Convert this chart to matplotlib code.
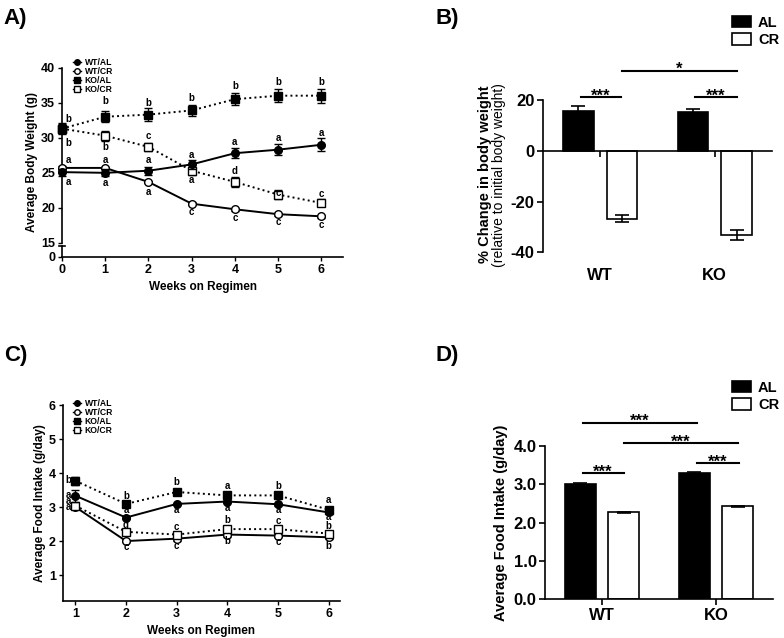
import numpy as np
import matplotlib.pyplot as plt
from matplotlib.lines import Line2D
from matplotlib.patches import Patch

plt.rcParams['font.family'] = ['Liberation Sans', 'DejaVu Sans']
plt.rcParams['font.weight'] = 'bold'
plt.rcParams['axes.labelweight'] = 'bold'
plt.rcParams['axes.linewidth'] = 1.2
plt.rcParams['axes.unicode_minus'] = False

# ---- A) body weight over time
weeks_a = [0, 1, 2, 3, 4, 5, 6]
wt_al_bw = [25.1, 25.0, 25.3, 26.2, 27.8, 28.3, 29.0]
wt_al_bw_err = [0.5, 0.5, 0.6, 0.6, 0.7, 0.8, 0.9]
wt_cr_bw = [25.7, 25.7, 23.7, 20.6, 19.8, 19.1, 18.8]
wt_cr_bw_err = [0.3, 0.2, 0.2, 0.2, 0.2, 0.2, 0.2]
ko_al_bw = [31.3, 33.0, 33.3, 33.9, 35.5, 36.0, 36.0]
ko_al_bw_err = [0.8, 0.8, 0.9, 0.8, 0.9, 0.9, 1.0]
ko_cr_bw = [31.3, 30.3, 28.7, 25.3, 23.7, 21.9, 20.7]
ko_cr_bw_err = [0.6, 0.7, 0.6, 0.6, 0.7, 0.6, 0.5]

letters_a_txt = ['b', 'b', 'a', 'a',
                 'b', 'b', 'a', 'a',
                 'b', 'c', 'a', 'a',
                 'b', 'a', 'a', 'c',
                 'b', 'a', 'd', 'c',
                 'b', 'a', 'c', 'c',
                 'b', 'a', 'c', 'c']
letters_a_x = [0.15] * 4 + [1] * 4 + [2] * 4 + [3] * 4 + [4] * 4 + [5] * 4 + [6] * 4
letters_a_y = [32.7, 29.3, 26.9, 23.7,
               35.3, 28.7, 26.8, 23.6,
               35.0, 30.2, 26.8, 22.2,
               35.7, 27.6, 24.0, 19.4,
               37.4, 29.4, 25.3, 18.5,
               37.9, 30.0, 22.1, 17.95,
               37.9, 30.7, 22.0, 17.6]

# ---- B) % change in body weight
groups = ['WT', 'KO']
al_change = [15.6, 15.2]
al_change_err = [2.0, 1.3]
cr_change = [-26.7, -33.2]
cr_change_err = [1.5, 2.0]

# ---- C) food intake over time
weeks_c = [1, 2, 3, 4, 5, 6]
wt_al_fi = [3.34, 2.70, 3.10, 3.17, 3.09, 2.85]
wt_al_fi_err = [0.17, 0.05, 0.04, 0.05, 0.04, 0.04]
wt_cr_fi = [3.01, 2.01, 2.08, 2.20, 2.17, 2.12]
wt_cr_fi_err = [0.04, 0.03, 0.06, 0.06, 0.04, 0.05]
ko_al_fi = [3.78, 3.10, 3.45, 3.35, 3.35, 2.93]
ko_al_fi_err = [0.12, 0.04, 0.04, 0.06, 0.05, 0.05]
ko_cr_fi = [3.05, 2.28, 2.20, 2.36, 2.36, 2.23]
ko_cr_fi_err = [0.05, 0.04, 0.05, 0.05, 0.05, 0.04]

letters_c_txt = ['b', 'a', 'a', 'a',
                 'b', 'a', 'd', 'c',
                 'b', 'a', 'c', 'c',
                 'a', 'a', 'b', 'b',
                 'b', 'a', 'c', 'c',
                 'a', 'a', 'b', 'b']
letters_c_x = [0.86] * 4 + [2] * 4 + [3] * 4 + [4] * 4 + [5] * 4 + [6] * 4
letters_c_y = [3.81, 3.35, 3.18, 3.01,
               3.33, 2.91, 2.49, 1.83,
               3.73, 2.91, 2.42, 1.86,
               3.62, 2.97, 2.62, 2.00,
               3.62, 2.91, 2.60, 1.97,
               3.21, 2.72, 2.45, 1.85]

# ---- D) average food intake
al_intake = [3.00, 3.30]
al_intake_err = [0.03, 0.03]
cr_intake = [2.27, 2.43]
cr_intake_err = [0.01, 0.01]

series_names = ['WT/AL', 'WT/CR', 'KO/AL', 'KO/CR']
series_style = [('o', 'black', '-'), ('o', 'white', '-'),
                ('s', 'black', ':'), ('s', 'white', ':')]
series_z = [4, 3, 4, 3]


def line_panel(ax, x, ys, errs, lx, ly, ltxt):
    for y, e, (m, fc, ls), z in zip(ys, errs, series_style, series_z):
        ax.errorbar(x, y, yerr=e, marker=m, mfc=fc, mec='black', ms=6 if m == 's' else 5.5,
                    color='black', ls=ls, lw=1.4, elinewidth=1.0, capsize=3, capthick=1.0,
                    clip_on=False, zorder=z)
    for t, xx, yy in zip(ltxt, lx, ly):
        ax.text(xx, yy, t, ha='center', va='center', fontsize=7, zorder=5)
    for s in ['top', 'right']:
        ax.spines[s].set_visible(False)
    ax.tick_params(labelsize=9, width=1.0, length=3, pad=2)


def legend_lines(ax, anchor):
    handles = [Line2D([], [], marker=m, mfc=fc, mec='black', color='black', ls='-',
                      lw=1.0, ms=4) for m, fc, ls in series_style]
    ax.legend(handles, series_names, loc='upper left', bbox_to_anchor=anchor,
              bbox_transform=ax.figure.transFigure, frameon=False, fontsize=6.2,
              handlelength=0.9, handletextpad=0.4, labelspacing=0.0, borderpad=0)


def bar_panel(ax, al, al_err, cr, cr_err):
    x = np.arange(len(groups))
    w = 0.27
    ax.bar(x - 0.19, al, w, yerr=al_err, color='black', edgecolor='black', lw=1.2,
           capsize=5, error_kw=dict(elinewidth=1.2, capthick=1.2), zorder=2)
    ax.bar(x + 0.19, cr, w, yerr=cr_err, color='white', edgecolor='black', lw=1.2,
           capsize=5, error_kw=dict(elinewidth=1.2, capthick=1.2), zorder=2)
    ax.set_xticks(x)
    ax.set_xticklabels([])
    ax.set_xlim(-0.5, 1.5)
    for s in ['top', 'right']:
        ax.spines[s].set_visible(False)
    ax.tick_params(axis='y', labelsize=12, width=1.2, length=4, pad=2)
    ax.tick_params(axis='x', width=1.2, length=4)
    return x


def sig(ax, x0, x1, y, label):
    ax.plot([x0, x1], [y, y], color='black', lw=1.5, clip_on=False)
    ax.annotate(label, xy=((x0 + x1) / 2, y), xytext=(0, -2.5), textcoords='offset points',
                ha='center', va='baseline', fontsize=12, annotation_clip=False)


def bar_legend(fig, anchor):
    handles = [Patch(facecolor='black', edgecolor='black', lw=1.2),
               Patch(facecolor='white', edgecolor='black', lw=1.2)]
    fig.legend(handles, ['AL', 'CR'], loc='upper left', bbox_to_anchor=anchor,
               frameon=False, fontsize=10.5, handlelength=1.3, handleheight=0.85,
               handletextpad=0.5, labelspacing=0.25, borderpad=0)


fig = plt.figure(figsize=(7.84, 6.38), dpi=100)

# ---------- A
ax_a = fig.add_axes([0.0791, 0.5972, 0.3584, 0.2968])
line_panel(ax_a, weeks_a, [wt_al_bw, wt_cr_bw, ko_al_bw, ko_cr_bw],
           [wt_al_bw_err, wt_cr_bw_err, ko_al_bw_err, ko_cr_bw_err],
           letters_a_x, letters_a_y, letters_a_txt)
ax_a.set_xlim(0, 6.5)
ax_a.set_ylim(13, 40)
ax_a.set_xticks(weeks_a)
ax_a.set_yticks([13, 15, 20, 25, 30, 35, 40])
ax_a.set_yticklabels(['0', '15', '20', '25', '30', '35', '40'])
ax_a.spines['left'].set_bounds(15, 40)
ax_a.plot([0, 0], [13, 14.5], color='black', lw=1.2, clip_on=False)
ax_a.plot([-0.06, 0.06], [14.5, 14.5], color='black', lw=1.2, clip_on=False)
ax_a.set_xlabel('Weeks on Regimen', fontsize=8.5, labelpad=4)
ax_a.set_ylabel('Average Body Weight (g)', fontsize=8.5, labelpad=2)
legend_lines(ax_a, (0.088, 0.916))
fig.text(0.005, 0.987, 'A)', fontsize=16, va='top')

# ---------- B
ax_b = fig.add_axes([0.6926, 0.6045, 0.2921, 0.2388])
x = bar_panel(ax_b, al_change, al_change_err, cr_change, cr_change_err)
ax_b.set_ylim(-40, 20)
ax_b.set_yticks([-40, -20, 0, 20])
ax_b.spines['bottom'].set_position(('data', 0))
for xi, g in zip(x, groups):
    ax_b.text(xi, -49, g, ha='center', va='center', fontsize=12, clip_on=False)
sig(ax_b, -0.17, 0.18, 21, '***')
sig(ax_b, 0.83, 1.19, 21, '***')
sig(ax_b, 0.19, 1.19, 31.5, '*')
ax_b.text(-0.255, 0.515, '% Change in body weight', transform=ax_b.transAxes,
          rotation=90, ha='center', va='center', fontsize=10.5)
ax_b.text(-0.19, 0.51, '(relative to initial body weight)', transform=ax_b.transAxes,
          rotation=90, ha='center', va='center', fontsize=10, fontweight='normal')
bar_legend(fig, (0.924, 0.987))
fig.text(0.555, 0.987, 'B)', fontsize=16, va='top')

# ---------- C
ax_c = fig.add_axes([0.080, 0.058, 0.354, 0.307])
line_panel(ax_c, weeks_c, [wt_al_fi, wt_cr_fi, ko_al_fi, ko_cr_fi],
           [wt_al_fi_err, wt_cr_fi_err, ko_al_fi_err, ko_cr_fi_err],
           letters_c_x, letters_c_y, letters_c_txt)
ax_c.set_xlim(0.75, 6.23)
ax_c.set_ylim(0.25, 6)
ax_c.set_xticks(weeks_c)
ax_c.set_yticks([1, 2, 3, 4, 5, 6])
ax_c.set_xlabel('Weeks on Regimen', fontsize=8.5, labelpad=4)
ax_c.set_ylabel('Average Food Intake (g/day)', fontsize=8.5, labelpad=2)
legend_lines(ax_c, (0.088, 0.382))
fig.text(0.005, 0.459, 'C)', fontsize=16, va='top')

# ---------- D
ax_d = fig.add_axes([0.695, 0.0607, 0.291, 0.2403])
x = bar_panel(ax_d, al_intake, al_intake_err, cr_intake, cr_intake_err)
ax_d.set_ylim(0, 4)
ax_d.set_yticks([0, 1, 2, 3, 4])
ax_d.set_yticklabels(['0.0', '1.0', '2.0', '3.0', '4.0'])
for xi, g in zip(x, groups):
    ax_d.text(xi, -0.42, g, ha='center', va='center', fontsize=12, clip_on=False)
sig(ax_d, -0.17, 0.19, 3.29, '***')
sig(ax_d, 0.83, 1.2, 3.55, '***')
sig(ax_d, 0.19, 1.19, 4.07, '***')
sig(ax_d, -0.17, 0.83, 4.61, '***')
ax_d.set_ylabel('Average Food Intake (g/day)', fontsize=10.5, labelpad=4)
bar_legend(fig, (0.924, 0.415))
fig.text(0.555, 0.459, 'D)', fontsize=16, va='top')

fig.savefig('out.png', dpi=100)
